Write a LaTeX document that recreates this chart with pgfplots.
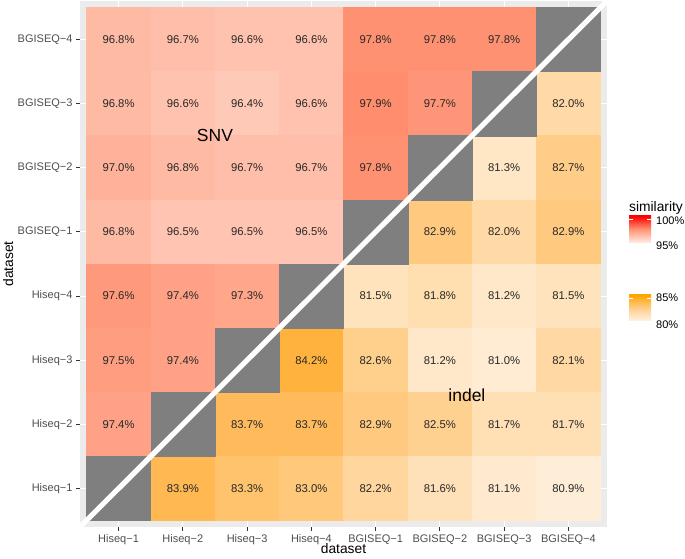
\documentclass[border=0pt]{standalone}
\usepackage{fontspec}
\setmainfont{Liberation Sans}
\usepackage{pgfplots}
\usepackage{pgfplotstable}
\pgfplotsset{compat=1.18}
\definecolor{panelbg}{RGB}{235,235,235}
\definecolor{nagray}{RGB}{127,127,127}
\definecolor{tickgray}{RGB}{51,51,51}
\definecolor{labgray}{RGB}{77,77,77}
\definecolor{tiletext}{RGB}{40,40,40}
\definecolor{snvlow}{RGB}{255,238,232}
\definecolor{snvmid}{RGB}{255,150,120}
\definecolor{snvhigh}{RGB}{255,0,0}
\definecolor{indlow}{RGB}{255,242,228}
\definecolor{indmid}{RGB}{255,205,138}
\definecolor{indhigh}{RGB}{255,165,0}
\pgfplotstableread{
x y v
1 8 96.8
2 8 96.7
3 8 96.6
4 8 96.6
5 8 97.8
6 8 97.8
7 8 97.8
1 7 96.8
2 7 96.6
3 7 96.4
4 7 96.6
5 7 97.9
6 7 97.7
1 6 97.0
2 6 96.8
3 6 96.7
4 6 96.7
5 6 97.8
1 5 96.8
2 5 96.5
3 5 96.5
4 5 96.5
1 4 97.6
2 4 97.4
3 4 97.3
1 3 97.5
2 3 97.4
1 2 97.4
}\snvdata
\pgfplotstableread{
x y v
8 7 82.0
7 6 81.3
8 6 82.7
6 5 82.9
7 5 82.0
8 5 82.9
5 4 81.5
6 4 81.8
7 4 81.2
8 4 81.5
4 3 84.2
5 3 82.6
6 3 81.2
7 3 81.0
8 3 82.1
3 2 83.7
4 2 83.7
5 2 82.9
6 2 82.5
7 2 81.7
8 2 81.7
2 1 83.9
3 1 83.3
4 1 83.0
5 1 82.2
6 1 81.6
7 1 81.1
8 1 80.9
}\indeldata
\pgfplotsset{
  tilebase/.style={
    at={(80pt,32pt)}, anchor=south west,
    scale only axis, width=527pt, height=526pt,
    xmin=0.4, xmax=8.6, ymin=0.4, ymax=8.6,
  },
  tileplot/.style={scatter, only marks, mark=square*, mark size=32.1pt,
    point meta=explicit,
    scatter/use mapped color={draw=mapped color, fill=mapped color}},
  labelplot/.style={draw=none, mark=none, point meta=explicit,
    nodes near coords={\pgfmathprintnumber[fixed,fixed zerofill,precision=1,assume math mode=true]{\pgfplotspointmeta}\%},
    nodes near coords align=center,
    every node near coord/.append style={font=\fontsize{11.3}{13}\selectfont, text=tiletext}},
}
\begin{document}
\begin{tikzpicture}[x=1pt,y=1pt]
\path[use as bounding box] (0,0) rectangle (685,559);
% axis 1: frame, ticks, SNV tiles
\begin{axis}[tilebase,
  xtick={1,2,3,4,5,6,7,8}, ytick={1,2,3,4,5,6,7,8},
  xtick pos=bottom, ytick pos=left,
  xticklabels={Hiseq−1,Hiseq−2,Hiseq−3,Hiseq−4,BGISEQ−1,BGISEQ−2,BGISEQ−3,BGISEQ−4},
  yticklabels={Hiseq−1,Hiseq−2,Hiseq−3,Hiseq−4,BGISEQ−1,BGISEQ−2,BGISEQ−3,BGISEQ−4},
  axis background/.style={fill=panelbg},
  axis line style={draw=none},
  grid=major, major grid style={white, line width=1.1pt},
  tick align=outside, major tick length=4pt,
  tick style={tickgray, line width=1pt},
  ticklabel style={font=\fontsize{11}{13}\selectfont, text=labgray},
  xlabel={dataset}, ylabel={dataset},
  label style={font=\fontsize{13.8}{16}\selectfont},
  xlabel style={at={(axis description cs:0.5,-0.0513)}, anchor=base},
  ylabel style={at={(axis description cs:-0.1271,0.5)}, anchor=base},
  colormap={snv}{rgb255=(255,255,255) rgb255=(255,217,203) rgb255=(255,178,154) rgb255=(255,137,105) rgb255=(255,91,58) rgb255=(255,0,0)},
  point meta min=95, point meta max=100,
]
\addplot[tileplot] table[x=x, y=y, meta=v] {\snvdata};
\end{axis}
% axis 2: indel tiles, diagonal, line, annotations
\begin{axis}[tilebase, hide axis, clip mode=individual,
  colormap={indel}{rgb255=(255,255,255) rgb255=(255,236,211) rgb255=(255,218,167) rgb255=(255,200,123) rgb255=(255,182,78) rgb255=(255,165,0)},
  point meta min=80, point meta max=85,
]
\addplot[tileplot] table[x=x, y=y, meta=v] {\indeldata};
\addplot[only marks, mark=square*, mark size=32.1pt, color=nagray, point meta=none]
coordinates {(1,1) (2,2) (3,3) (4,4) (5,5) (6,6) (7,7) (8,8)};
\addplot[white, line width=5.2pt, no marks, point meta=none] coordinates {(0,0) (9,9)};
\addplot[labelplot] table[x=x, y=y, meta=v] {\snvdata};
\addplot[labelplot] table[x=x, y=y, meta=v] {\indeldata};
\node[font=\fontsize{17.5}{20}\selectfont] at (axis cs:2.5,6.51) {SNV};
\node[font=\fontsize{17.5}{20}\selectfont] at (axis cs:6.42,2.46) {indel};
\end{axis}
% legend
\node[anchor=base west, font=\fontsize{13.8}{16}\selectfont, inner sep=0] at (629,347) {similarity};
\shade[bottom color=snvlow, top color=snvhigh, middle color=snvmid] (629,316) rectangle (651,343);
\draw[white, line width=0.8pt] (629,340) -- (633,340) (647,340) -- (651,340);
\node[anchor=west, font=\fontsize{11}{13}\selectfont, inner sep=0] at (656,338) {100\%};
\node[anchor=west, font=\fontsize{11}{13}\selectfont, inner sep=0] at (656,313) {95\%};
\shade[bottom color=indlow, top color=indhigh, middle color=indmid] (629,238) rectangle (651,264);
\draw[white, line width=0.8pt] (629,261) -- (633,261) (647,261) -- (651,261);
\node[anchor=west, font=\fontsize{11}{13}\selectfont, inner sep=0] at (656,261) {85\%};
\node[anchor=west, font=\fontsize{11}{13}\selectfont, inner sep=0] at (656,234) {80\%};
\end{tikzpicture}
\end{document}
